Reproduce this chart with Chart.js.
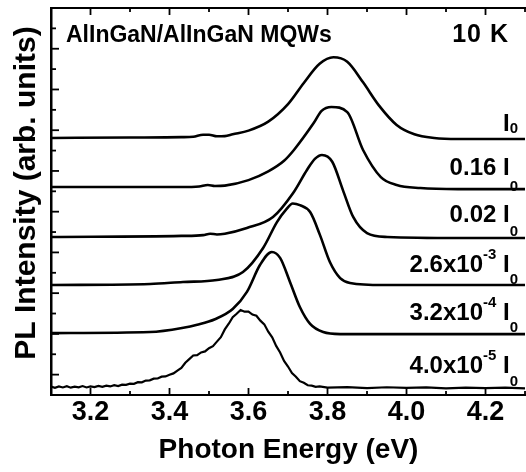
<!DOCTYPE html>
<html>
<head>
<meta charset="utf-8">
<script src="https://cdn.jsdelivr.net/npm/chart.js@4/dist/chart.umd.min.js"></script>
<style>
html,body{margin:0;padding:0;background:#fff;}
#wrap{width:526px;height:472px;position:relative;}
</style>
</head>
<body>
<div id="wrap"><canvas id="c" width="526" height="472"></canvas></div>
<script>
// ---------- data ----------
const xTickValues = [3.2, 3.4, 3.6, 3.8, 4.0, 4.2];
const xMinorValues = [3.1, 3.3, 3.5, 3.7, 3.9, 4.1, 4.3];
const yTickValues = [1, 2, 3, 4, 5, 6, 7, 8, 9, 10, 11, 12, 13, 14, 15, 16, 17, 18];
const seriesNames = ['I0', '0.16 I0', '0.02 I0', '2.6x10-3 I0', '3.2x10-4 I0', '4.0x10-5 I0'];

const energyI0 = [3.10, 3.30, 3.43, 3.46, 3.485, 3.50, 3.52, 3.54, 3.56, 3.60, 3.65, 3.70, 3.74, 3.78, 3.815, 3.85, 3.89, 3.93, 3.975, 4.02, 4.07, 4.13, 4.30];
const plI0     = [12.62, 12.64, 12.66, 12.68, 12.78, 12.78, 12.70, 12.71, 12.80, 12.98, 13.42, 14.28, 15.32, 16.26, 16.58, 16.36, 15.35, 14.22, 13.26, 12.80, 12.62, 12.57, 12.57];

const energy016 = [3.10, 3.43, 3.475, 3.497, 3.515, 3.54, 3.60, 3.65, 3.69, 3.715, 3.765, 3.785, 3.81, 3.85, 3.89, 3.935, 3.975, 4.035, 4.13, 4.30];
const pl016     = [10.21, 10.21, 10.24, 10.31, 10.26, 10.28, 10.55, 10.98, 11.50, 12.03, 13.35, 13.95, 14.14, 13.89, 12.03, 10.70, 10.31, 10.16, 10.11, 10.11];

const energy002 = [3.10, 3.43, 3.485, 3.503, 3.52, 3.54, 3.596, 3.662, 3.713, 3.748, 3.768, 3.786, 3.812, 3.839, 3.865, 3.90, 3.951, 4.135, 4.30];
const pl002     = [7.76, 7.81, 7.85, 7.92, 7.88, 7.92, 8.20, 8.74, 9.92, 11.05, 11.59, 11.78, 11.45, 10.06, 8.74, 7.95, 7.76, 7.71, 7.71];

const energy26e3 = [3.10, 3.351, 3.434, 3.52, 3.586, 3.637, 3.672, 3.695, 3.712, 3.73, 3.756, 3.781, 3.806, 3.832, 3.857, 3.941, 4.30];
const pl26e3     = [5.40, 5.45, 5.55, 5.65, 6.04, 7.22, 8.49, 9.10, 9.40, 9.32, 8.98, 7.85, 6.53, 5.74, 5.50, 5.40, 5.40];

const energy32e4 = [3.10, 3.351, 3.435, 3.47, 3.515, 3.56, 3.596, 3.629, 3.659, 3.680, 3.705, 3.730, 3.756, 3.789, 3.832, 4.30];
const pl32e4     = [3.04, 3.09, 3.30, 3.45, 3.72, 4.22, 5.06, 6.38, 7.02, 6.73, 5.55, 4.32, 3.49, 3.09, 2.99, 2.99];

const energy4e5 = [3.10, 3.11, 3.12, 3.13, 3.14, 3.15, 3.16, 3.17, 3.18, 3.19, 3.20, 3.21, 3.22, 3.23, 3.24, 3.25, 3.26, 3.27, 3.28, 3.29,
                   3.30, 3.31, 3.32, 3.33, 3.34, 3.35, 3.36, 3.37, 3.38, 3.39, 3.40, 3.41, 3.42, 3.43, 3.44, 3.45, 3.46, 3.47, 3.48, 3.49,
                   3.50, 3.51, 3.52, 3.53, 3.54, 3.55, 3.56, 3.57, 3.58, 3.59, 3.60, 3.61, 3.62, 3.63, 3.64, 3.65, 3.66, 3.67, 3.68, 3.69,
                   3.70, 3.71, 3.72, 3.73, 3.74, 3.75, 3.76, 3.77, 3.78, 3.80, 3.85, 3.90, 3.95, 4.00, 4.05, 4.10, 4.15, 4.20, 4.25, 4.30];
const pl4e5     = [0.41, 0.35, 0.42, 0.37, 0.43, 0.36, 0.41, 0.38, 0.44, 0.37, 0.42, 0.39, 0.45, 0.40, 0.46, 0.42, 0.48, 0.44, 0.51, 0.50,
                   0.56, 0.55, 0.63, 0.62, 0.71, 0.72, 0.80, 0.81, 0.90, 0.91, 0.99, 1.06, 1.20, 1.33, 1.58, 1.76, 1.94, 1.96, 2.09, 2.14,
                   2.30, 2.40, 2.62, 2.84, 3.22, 3.50, 3.82, 3.99, 4.17, 4.09, 4.09, 3.95, 3.89, 3.65, 3.47, 3.11, 2.83, 2.41, 2.09, 1.67,
                   1.40, 1.08, 0.90, 0.68, 0.60, 0.48, 0.46, 0.40, 0.42, 0.36, 0.39, 0.34, 0.38, 0.35, 0.37, 0.33, 0.36, 0.34, 0.36, 0.33];

// ---------- build ----------
const FF = "'Liberation Sans', Arial, Helvetica, sans-serif";
const toPts = (xs, ys) => xs.map((x, i) => ({x: x, y: ys[i]}));
const seriesData = [
  toPts(energyI0, plI0), toPts(energy016, pl016), toPts(energy002, pl002),
  toPts(energy26e3, pl26e3), toPts(energy32e4, pl32e4), toPts(energy4e5, pl4e5)
];

const datasets = seriesData.map((d, i) => ({
  label: seriesNames[i],
  data: d,
  borderColor: '#000',
  borderWidth: i === 5 ? 2.2 : 2.6,
  pointRadius: 0,
  fill: false,
  cubicInterpolationMode: i === 5 ? 'default' : 'monotone',
  tension: i === 5 ? 0 : 0.4,
  xAxisID: 'x',
  yAxisID: 'y'
}));

const labelSpecs = [
  {pre: '',       sup: '',   base: 131, subDy: 2},
  {pre: '0.16',   sup: '',   base: 175, subDy: 16},
  {pre: '0.02',   sup: '',   base: 222, subDy: 14},
  {pre: '2.6x10', sup: '-3', base: 272, subDy: 12},
  {pre: '3.2x10', sup: '-4', base: 320, subDy: 12},
  {pre: '4.0x10', sup: '-5', base: 373, subDy: 13}
];

function drawParts(ctx, parts, right, baseline) {
  let total = 0;
  parts.forEach(p => { ctx.font = 'bold ' + p.size + 'px ' + FF; p.w = ctx.measureText(p.t).width; total += p.w; });
  let x = right - total;
  parts.forEach(p => { ctx.font = 'bold ' + p.size + 'px ' + FF; ctx.fillText(p.t, x, baseline + p.dy); x += p.w; });
}

const decor = {
  id: 'decor',
  beforeDraw(chart) {
    const ctx = chart.ctx;
    ctx.save(); ctx.fillStyle = '#fff'; ctx.fillRect(0, 0, chart.width, chart.height); ctx.restore();
  },
  afterDraw(chart) {
    const {ctx, chartArea: a, scales} = chart;
    const xs = scales.x, ys = scales.y;
    ctx.save();
    ctx.strokeStyle = '#000';
    ctx.lineWidth = 1.8;
    const seg = (x1, y1, x2, y2) => { ctx.beginPath(); ctx.moveTo(x1, y1); ctx.lineTo(x2, y2); ctx.stroke(); };
    xTickValues.forEach(v => { const p = xs.getPixelForValue(v); seg(p, a.bottom, p, a.bottom - 7); seg(p, a.top, p, a.top + 7); });
    xMinorValues.forEach(v => { const p = xs.getPixelForValue(v); seg(p, a.bottom, p, a.bottom - 4); seg(p, a.top, p, a.top + 4); });
    yTickValues.forEach(v => { const p = ys.getPixelForValue(v); seg(a.left, p, a.left + (v % 2 ? 8 : 5), p); });

    ctx.fillStyle = '#000';
    ctx.textBaseline = 'alphabetic';
    ctx.textAlign = 'left';
    // panel text
    ctx.font = 'bold 23px ' + FF;
    ctx.fillText('AlInGaN/AlInGaN MQWs', 66, 42);
    ctx.font = 'bold 25px ' + FF;
    try { ctx.letterSpacing = '1px'; } catch (e) {}
    ctx.textAlign = 'right';
    ctx.fillText('10 K', 509, 42);
    try { ctx.letterSpacing = '0px'; } catch (e) {}
    ctx.textAlign = 'left';
    // curve labels
    labelSpecs.forEach(s => {
      const parts = [];
      if (s.pre) parts.push({t: s.pre, size: 24, dy: 0});
      if (s.sup) parts.push({t: s.sup, size: 15, dy: -13});
      parts.push({t: s.pre ? ' I' : 'I', size: 24, dy: 0});
      parts.push({t: '0', size: 15, dy: s.subDy});
      drawParts(ctx, parts, 518, s.base);
    });
    // y axis title
    ctx.save();
    ctx.translate(35, 193);
    ctx.rotate(-Math.PI / 2);
    ctx.textAlign = 'center';
    ctx.font = 'bold 30px ' + FF;
    ctx.fillText('PL Intensity (arb. units)', 0, 0);
    ctx.restore();
    ctx.restore();
  }
};

new Chart(document.getElementById('c'), {
  type: 'line',
  data: {datasets: datasets},
  options: {
    responsive: false,
    animation: false,
    events: [],
    layout: {padding: 0},
    plugins: {legend: {display: false}, tooltip: {enabled: false}},
    scales: {
      x: {
        type: 'linear', position: 'bottom', min: 3.1, max: 4.3025,
        afterBuildTicks: s => { s.ticks = xTickValues.map(v => ({value: v})); },
        afterFit: s => { s.height = 77; },
        ticks: {display: true, color: '#000', padding: 1, autoSkip: false, maxRotation: 0,
                font: {family: FF, size: 27, weight: 'bold'}, callback: v => Number(v).toFixed(1)},
        grid: {display: false, drawTicks: false},
        border: {display: true, color: '#000', width: 2},
        title: {display: true, text: 'Photon Energy (eV)', color: '#000',
                font: {family: FF, size: 28, weight: 'bold'}, padding: {top: 0, bottom: 5}}
      },
      x2: {
        type: 'linear', position: 'top', min: 3.1, max: 4.3025,
        afterFit: s => { s.height = 8; },
        ticks: {display: false},
        grid: {display: false, drawTicks: false},
        border: {display: true, color: '#000', width: 2}
      },
      y: {
        type: 'linear', position: 'left', min: 0, max: 19,
        afterFit: s => { s.width = 51; },
        ticks: {display: false},
        grid: {display: false, drawTicks: false},
        border: {display: true, color: '#000', width: 2.5}
      }
    }
  },
  plugins: [decor]
});
</script>
</body>
</html>
